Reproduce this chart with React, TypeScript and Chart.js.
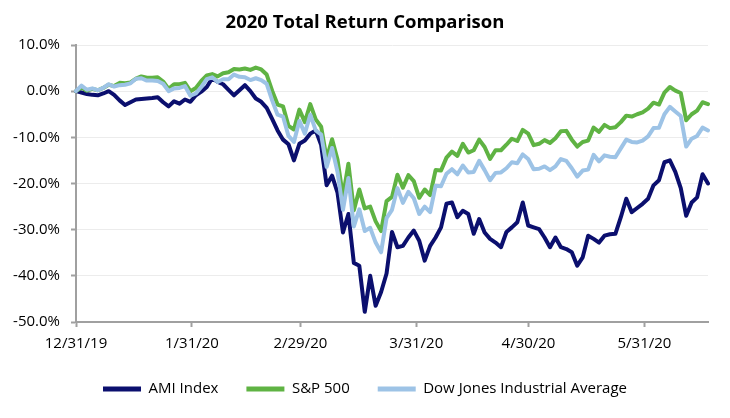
import React, { useEffect, useRef } from "react";
import { Chart, registerables } from "chart.js";

Chart.register(...registerables);

// Trading days (category positions of the data points)
const tradingDays: string[] = [
  "2019-12-31",
  "2020-01-02", "2020-01-03", "2020-01-06", "2020-01-07", "2020-01-08", "2020-01-09", "2020-01-10",
  "2020-01-13", "2020-01-14", "2020-01-15", "2020-01-16", "2020-01-17",
  "2020-01-21", "2020-01-22", "2020-01-23", "2020-01-24",
  "2020-01-27", "2020-01-28", "2020-01-29", "2020-01-30", "2020-01-31",
  "2020-02-03", "2020-02-04", "2020-02-05", "2020-02-06", "2020-02-07",
  "2020-02-10", "2020-02-11", "2020-02-12", "2020-02-13", "2020-02-14",
  "2020-02-18", "2020-02-19", "2020-02-20", "2020-02-21",
  "2020-02-24", "2020-02-25", "2020-02-26", "2020-02-27", "2020-02-28",
  "2020-03-02", "2020-03-03", "2020-03-04", "2020-03-05", "2020-03-06",
  "2020-03-09", "2020-03-10", "2020-03-11", "2020-03-12", "2020-03-13",
  "2020-03-16", "2020-03-17", "2020-03-18", "2020-03-19", "2020-03-20",
  "2020-03-23", "2020-03-24", "2020-03-25", "2020-03-26", "2020-03-27",
  "2020-03-30", "2020-03-31",
  "2020-04-01", "2020-04-02", "2020-04-03",
  "2020-04-06", "2020-04-07", "2020-04-08", "2020-04-09",
  "2020-04-13", "2020-04-14", "2020-04-15", "2020-04-16", "2020-04-17",
  "2020-04-20", "2020-04-21", "2020-04-22", "2020-04-23", "2020-04-24",
  "2020-04-27", "2020-04-28", "2020-04-29", "2020-04-30",
  "2020-05-01",
  "2020-05-04", "2020-05-05", "2020-05-06", "2020-05-07", "2020-05-08",
  "2020-05-11", "2020-05-12", "2020-05-13", "2020-05-14", "2020-05-15",
  "2020-05-18", "2020-05-19", "2020-05-20", "2020-05-21", "2020-05-22",
  "2020-05-26", "2020-05-27", "2020-05-28", "2020-05-29",
  "2020-06-01", "2020-06-02", "2020-06-03", "2020-06-04", "2020-06-05",
  "2020-06-08", "2020-06-09", "2020-06-10", "2020-06-11", "2020-06-12",
  "2020-06-15", "2020-06-16", "2020-06-17",
];

// Axis tick labels (calendar month ends)
const axisTickDates: string[] = [
  "2019-12-31", "2020-01-31", "2020-02-29", "2020-03-31", "2020-04-30", "2020-05-31",
];

const seriesNames: string[] = ["AMI Index", "S&P 500", "Dow Jones Industrial Average"];

// Total return, %
const amiIndex: number[] = [
  0, -0.3, -0.6, -0.8, -0.9, -0.5, 0.0, -0.8, -2.0, -3.0, -2.4, -1.8, -1.7,
  -1.6, -1.5, -1.3, -2.4, -3.3, -2.2, -2.7, -1.8, -2.3,
  -0.9, -0.1, 0.9, 2.8, 2.0, 1.5, 0.3, -0.9, 0.2, 1.3, 0.0, -1.6, -2.3, -3.6,
  -6.0, -8.5, -10.5, -11.5, -15.0,
  -11.4, -10.7, -9.2, -8.5, -11.7, -20.4, -18.3, -22.0, -30.6, -26.6,
  -37.2, -37.8, -47.8, -40.0, -46.5, -43.5, -39.5, -30.5, -33.8, -33.5, -31.7, -30.2,
  -32.4, -36.7, -33.5, -31.7, -29.5, -24.4, -24.1, -27.3, -25.9, -26.6, -30.9,
  -27.7, -30.6, -32.0, -32.8, -33.8, -30.5, -29.5, -28.4, -24.1, -29.1,
  -29.5, -29.9, -31.7, -33.8, -31.7, -33.8, -34.2, -34.9, -37.8, -36.0, -31.3,
  -32.0, -32.8, -31.3, -31.0, -30.9, -27.3, -23.3, -26.2, -25.3,
  -24.4, -23.3, -20.4, -19.3, -15.4, -15.0, -17.5, -21.0, -27.0, -24.1, -23.0, -18.0, -20.0,
];

const sp500: number[] = [
  0, 0.8, 0.1, 0.5, 0.2, 0.7, 1.4, 1.1, 1.8, 1.7, 1.9, 2.7, 3.2,
  2.9, 2.9, 3.0, 2.1, 0.5, 1.5, 1.5, 1.8, 0.0,
  0.7, 2.2, 3.4, 3.7, 3.2, 3.9, 4.1, 4.8, 4.7, 4.9, 4.6, 5.1, 4.7, 3.6,
  0.1, -2.9, -3.3, -7.5, -8.3,
  -4.0, -6.7, -2.8, -6.1, -7.7, -14.6, -10.4, -14.8, -22.9, -15.7,
  -25.8, -21.3, -25.4, -25.0, -28.2, -30.3, -23.8, -22.9, -18.1, -20.9, -18.2, -19.5,
  -23.1, -21.3, -22.5, -17.1, -17.2, -14.4, -13.1, -14.0, -11.4, -13.3, -12.8,
  -10.5, -12.1, -14.7, -12.8, -12.8, -11.6, -10.3, -10.8, -8.4, -9.2,
  -11.7, -11.4, -10.6, -11.2, -10.2, -8.7, -8.6, -10.5, -12.0, -11.0, -10.7,
  -7.9, -8.8, -7.3, -8.0, -7.8, -6.7, -5.3, -5.5, -5.0,
  -4.6, -3.8, -2.5, -2.9, -0.3, 0.9, 0.1, -0.4, -6.3, -5.0, -4.2, -2.4, -2.8,
];

const dowJones: number[] = [
  0, 1.2, 0.3, 0.6, 0.2, 0.7, 1.5, 1.0, 1.3, 1.4, 1.7, 2.7, 2.8,
  2.3, 2.3, 2.2, 1.6, 0.0, 0.6, 0.7, 1.1, -1.0,
  -0.5, 0.9, 2.6, 3.0, 2.0, 2.6, 2.6, 3.6, 3.1, 3.0, 2.4, 2.8, 2.4, 1.6,
  -2.0, -5.1, -5.5, -9.7, -11.0,
  -6.4, -9.2, -5.1, -8.5, -9.4, -16.4, -12.3, -17.5, -25.7, -18.8,
  -29.3, -25.6, -30.3, -29.6, -32.8, -34.9, -27.5, -25.7, -21.0, -24.2, -21.8, -23.2,
  -26.6, -25.0, -26.2, -20.5, -20.6, -17.9, -16.9, -18.0, -16.1, -17.6, -17.5,
  -15.1, -17.1, -19.3, -17.7, -17.6, -16.7, -15.4, -15.6, -13.7, -14.7,
  -16.9, -16.8, -16.3, -17.1, -16.3, -14.7, -15.1, -16.7, -18.5, -17.2, -17.0,
  -13.8, -15.2, -13.9, -14.2, -14.3, -12.4, -10.5, -11.0, -11.1,
  -10.7, -9.8, -8.0, -7.9, -5.0, -3.4, -4.4, -5.4, -12.0, -10.3, -9.7, -7.9, -8.5,
];

const yTicks: number[] = [-50, -40, -30, -20, -10, 0, 10];

const COLORS = ["#0b0f6e", "#5fb343", "#9dc3e6"];
const FONT = "'Open Sans', 'Noto Sans', sans-serif";
const AXIS_GRAY = "#a0a0a0";

function dayNumber(s: string): number {
  const [y, m, d] = s.split("-").map(Number);
  return Date.UTC(y, m - 1, d) / 86400000;
}
function fmtDate(s: string): string {
  const [y, m, d] = s.split("-");
  return `${Number(m)}/${Number(d)}/${y.slice(2)}`;
}

export default function App() {
  const ref = useRef<HTMLCanvasElement>(null);

  useEffect(() => {
    document.body.style.margin = "0";
    const day0 = dayNumber(tradingDays[0]);
    const dayLast = dayNumber(tradingDays[tradingDays.length - 1]) - day0;
    const tickDays = axisTickDates.map((d) => dayNumber(d) - day0);

    const values = [amiIndex, sp500, dowJones];
    const orders = [2, 1, 0];

    const chart = new Chart(ref.current as HTMLCanvasElement, {
      type: "line",
      data: {
        labels: tradingDays,
        datasets: seriesNames.map((name, i) => ({
          label: name,
          data: values[i],
          borderColor: COLORS[i],
          backgroundColor: COLORS[i],
          borderWidth: 4,
          pointRadius: 0,
          pointHoverRadius: 0,
          tension: 0,
          borderJoinStyle: "round" as const,
          borderCapStyle: "round" as const,
          order: orders[i],
          xAxisID: "x",
          yAxisID: "y",
        })),
      },
      options: {
        responsive: false,
        animation: false,
        layout: { padding: { left: 0, right: 0, top: 0, bottom: 11.5 } },
        font: { family: FONT },
        plugins: {
          tooltip: { enabled: false },
          title: {
            display: true,
            text: "2020 Total Return Comparison",
            color: "#000",
            font: { family: FONT, size: 18.5, weight: "bold" },
            padding: { top: 12, bottom: 10.8 },
          },
          legend: {
            position: "bottom",
            labels: {
              boxWidth: 38,
              boxHeight: 5,
              color: "#000",
              font: { family: FONT, size: 15 },
              padding: 28,
              generateLabels: (c: any) => {
                const items = (Chart.defaults as any).plugins.legend.labels.generateLabels(c);
                return items
                  .map((it: any) => ({ ...it, lineWidth: 0 }))
                  .sort((a: any, b: any) => a.datasetIndex - b.datasetIndex);
              },
            },
          },
        },
        scales: {
          x: {
            type: "category",
            display: false,
            offset: false,
          },
          xd: {
            type: "linear",
            axis: "x",
            position: "bottom",
            min: 0,
            max: dayLast,
            afterBuildTicks: (scale: any) => {
              scale.ticks = tickDays.map((v) => ({ value: v }));
            },
            afterFit: (scale: any) => {
              scale.height = 31.5;
            },
            ticks: {
              autoSkip: false,
              maxRotation: 0,
              padding: 7.5,
              color: "#000",
              font: { family: FONT, size: 15 },
              callback: (_v: any, i: number) => fmtDate(axisTickDates[i]),
            },
            grid: {
              drawOnChartArea: false,
              drawTicks: true,
              tickLength: 5,
              tickColor: AXIS_GRAY,
              tickWidth: 2,
            },
            border: { display: true, color: AXIS_GRAY, width: 2 },
          } as any,
          y: {
            min: -50,
            max: 10,
            afterBuildTicks: (scale: any) => {
              scale.ticks = yTicks.map((v) => ({ value: v }));
            },
            afterFit: (scale: any) => {
              scale.width = 76;
            },
            ticks: {
              padding: 11,
              color: "#000",
              font: { family: FONT, size: 15 },
              callback: (v: any) => `${Number(v).toFixed(1)}%`,
            },
            grid: {
              color: "#ececec",
              lineWidth: 1,
              tickLength: 5,
              tickColor: AXIS_GRAY,
              tickWidth: 2,
            },
            border: { display: true, color: AXIS_GRAY, width: 2 },
          },
          yr: {
            type: "linear",
            position: "right",
            min: -50,
            max: 10,
            ticks: { display: false },
            grid: { display: false, drawTicks: false },
            border: { display: false },
            afterFit: (scale: any) => {
              scale.width = 22;
            },
          },
        },
      } as any,
    });
    return () => chart.destroy();
  }, []);

  return (
    <div style={{ width: 730, height: 418 }}>
      <canvas ref={ref} width={730} height={418} />
    </div>
  );
}
